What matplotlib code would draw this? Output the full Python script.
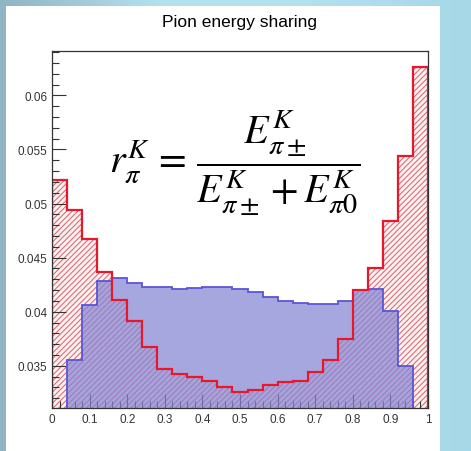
import numpy as np
import matplotlib
matplotlib.use("Agg")
import matplotlib.pyplot as plt
from matplotlib.ticker import MultipleLocator

plt.rcParams['font.family'] = ['Liberation Sans', 'DejaVu Sans']
plt.rcParams['mathtext.fontset'] = 'stix'
plt.rcParams['hatch.linewidth'] = 0.7

# 25 bins of r = E(pi+-) / (E(pi+-) + E(pi0)) on [0, 1]
bin_edges = np.linspace(0.0, 1.0, 26)

# red histogram (hatched)
red_vals = [0.0522, 0.0494, 0.0467, 0.0437, 0.0411, 0.0391, 0.0367, 0.0347,
            0.0342, 0.0340, 0.0336, 0.0330, 0.0326, 0.0328, 0.0332, 0.0335,
            0.0336, 0.0344, 0.0355, 0.0375, 0.0420, 0.0440, 0.0484, 0.0544,
            0.0626]

# blue histogram (filled)
blue_vals = [0.0290, 0.0355, 0.0406, 0.0428, 0.0431, 0.0427, 0.0423, 0.0423,
             0.0421, 0.0422, 0.0423, 0.0423, 0.0421, 0.0418, 0.0414, 0.0410,
             0.0408, 0.0407, 0.0407, 0.0410, 0.0420, 0.0421, 0.0401, 0.0350,
             0.0290]

y_min, y_max = 0.0311, 0.0641
title = "Pion energy sharing"
formula = (r'$r_{\pi}^{K}\, = \,\dfrac{E_{\pi\pm}^{K}}'
           r'{E_{\pi\pm}^{K}+E_{\pi 0}^{K}}$')

W, H = 471, 452
fig = plt.figure(figsize=(W / 100, H / 100), dpi=100)

# slide-like background with white panel
bg = fig.add_axes([0, 0, 1, 1], zorder=-10)
grad = np.linspace(0, 1, 256)[None, :]
bg.imshow(grad, aspect='auto', cmap=matplotlib.colors.LinearSegmentedColormap.from_list(
    'bg', ['#8fb4c4', '#b4e0ee', '#b4e0ee', '#a6d8e8']), extent=[0, 1, 0, 1])
bg.add_patch(plt.Rectangle((6 / W, 0), (440 - 6) / W, 1 - 7 / H,
                           facecolor='white', edgecolor='none'))
bg.set_xlim(0, 1)
bg.set_ylim(0, 1)
bg.axis('off')

ax = fig.add_axes([52 / W, 1 - 409 / H, (428 - 52) / W, (409 - 52) / H])

# red: light pink with red hatching
ax.stairs(red_vals, bin_edges, baseline=0, fill=True, facecolor='#fdf0f0',
          edgecolor='#d8606a', hatch='//////', linewidth=0, zorder=1)
# blue: semi-transparent lavender fill
ax.stairs(blue_vals, bin_edges, baseline=0, fill=True, facecolor='#8585d4',
          alpha=0.72, linewidth=0, zorder=2)
ax.stairs(blue_vals, bin_edges, baseline=0, color='#5a55d8', linewidth=1.3, zorder=3)
ax.stairs(red_vals, bin_edges, baseline=0, color='#e8182c', linewidth=1.6, zorder=4)

ax.set_xlim(0, 1)
ax.set_ylim(y_min, y_max)

ax.xaxis.set_major_locator(MultipleLocator(0.1))
ax.xaxis.set_minor_locator(MultipleLocator(0.02))
ax.yaxis.set_major_locator(MultipleLocator(0.005))
ax.yaxis.set_minor_locator(MultipleLocator(0.001))
ax.tick_params(which='both', direction='in', top=False, right=False,
               labelsize=8.5, colors='#333333', width=0.8)
ax.tick_params(which='major', length=10)
ax.tick_params(which='minor', length=5)
ax.xaxis.set_major_formatter(matplotlib.ticker.FuncFormatter(lambda v, p: f'{v:g}'))
ax.yaxis.set_major_formatter(matplotlib.ticker.FuncFormatter(lambda v, p: f'{v:g}'))
for s in ax.spines.values():
    s.set_linewidth(0.9)
    s.set_color('#333333')
    s.set_zorder(5)

ax.text(0.485, 0.69, formula, transform=ax.transAxes, ha='center', va='center',
        fontsize=29, zorder=6)

fig.text(239 / W, 1 - 23 / H, title, ha='center', va='center', fontsize=12.5)

fig.savefig('out.png', dpi=100)
